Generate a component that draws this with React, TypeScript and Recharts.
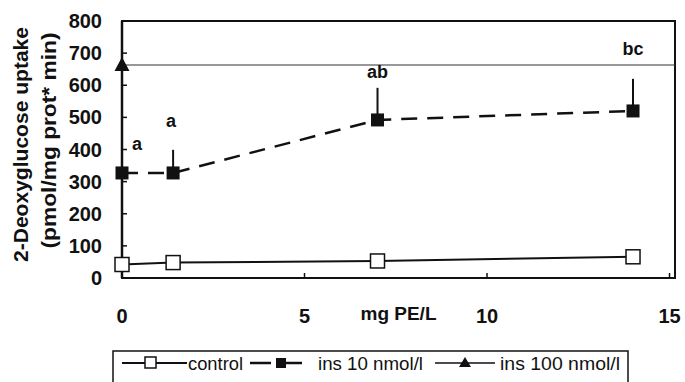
import React from 'react';
import {
  LineChart,
  Line,
  XAxis,
  YAxis,
  ErrorBar,
  ReferenceLine,
  ReferenceArea,
  LabelList,
} from 'recharts';

// mg PE/L
const doses = [0, 1.4, 7, 14];
const controlUptake = [42, 48, 53, 66];
const ins10Uptake = [327, 327, 492, 520];
const ins10ErrorUp = [0, 72, 100, 100];
const ins10Letters = ['a', 'a', 'ab', 'bc'];
const ins100Dose = [0];
const ins100Uptake = [663];
const yTicks = [0, 100, 200, 300, 400, 500, 600, 700, 800];
const xTicks = [0, 5, 10, 15];
const seriesNames = ['control', 'ins 10 nmol/l', 'ins 100 nmol/l'];

// how far each letter sits above its bar (px), and sideways nudge
const letterLift = [23, 23, 10, 24];
const letterShift = [15, -2, 0, 0];

const FONT = '"Liberation Sans", Arial, Helvetica, sans-serif';
const INK = '#111';

const controlData = doses.map((d, i) => ({ dose: d, uptake: controlUptake[i] }));
const ins10Data = doses.map((d, i) => ({
  dose: d,
  uptake: ins10Uptake[i],
  err: [0, ins10ErrorUp[i]],
  top: ins10Uptake[i] + ins10ErrorUp[i],
  letter: ins10Letters[i],
}));
const ins100Data = ins100Dose.map((d, i) => ({ dose: d, uptake: ins100Uptake[i] }));

const openSquare = (p: any) =>
  p.cx == null ? null : (
    <rect key={p.key} x={p.cx - 7} y={p.cy - 7} width={14} height={14} fill="#fff" stroke={INK} strokeWidth={1.5} />
  );
const filledSquare = (p: any) =>
  p.cx == null ? null : (
    <rect key={p.key} x={p.cx - 6.5} y={p.cy - 6.5} width={13} height={13} fill={INK} />
  );
const triangle = (p: any) =>
  p.cx == null ? null : (
    <polygon key={p.key} points={`${p.cx},${p.cy - 8} ${p.cx - 7.5},${p.cy + 6} ${p.cx + 7.5},${p.cy + 6}`} fill={INK} />
  );

const renderLetter = (props: any) => {
  const { x, y, value, index } = props;
  return (
    <text
      x={x + letterShift[index]}
      y={y - letterLift[index]}
      textAnchor="middle"
      fontFamily={FONT}
      fontWeight="bold"
      fontSize={18}
      fill={INK}
    >
      {value}
    </text>
  );
};

const yLabel = (props: any) => {
  const vb = props.viewBox;
  const cy = vb.y + vb.height / 2 - 5;
  return (
    <g fontFamily={FONT} fontWeight="bold" fontSize={20} fill={INK}>
      <text x={28} y={cy} transform={`rotate(-90 28 ${cy})`} textAnchor="middle" textLength={235} lengthAdjust="spacingAndGlyphs">
        2-Deoxyglucose uptake
      </text>
      <text x={56} y={cy - 4} transform={`rotate(-90 56 ${cy - 4})`} textAnchor="middle" textLength={216} lengthAdjust="spacingAndGlyphs">
        (pmol/mg prot* min)
      </text>
    </g>
  );
};

const xLabel = (props: any) => {
  const vb = props.viewBox;
  return (
    <text x={vb.x + vb.width / 2} y={vb.y + 42} textAnchor="middle" fontFamily={FONT} fontWeight="bold" fontSize={19} fill={INK}>
      mg PE/L
    </text>
  );
};

function ChartLegend() {
  return (
    <svg width={517} height={40} style={{ position: 'absolute', left: 112, top: 350 }}>
      <rect x={1} y={1} width={515} height={60} fill="#fff" stroke={INK} strokeWidth={1.5} />
      <g fontFamily={FONT} fontSize={18} fill={INK}>
        <line x1={10} x2={75} y1={13} y2={13} stroke={INK} strokeWidth={2} />
        <rect x={33} y={7} width={11} height={11} fill="#fff" stroke={INK} strokeWidth={1.5} />
        <text x={76} y={20} textLength={55} lengthAdjust="spacingAndGlyphs">{seriesNames[0]}</text>

        <line x1={138} x2={159} y1={13} y2={13} stroke={INK} strokeWidth={2.5} />
        <line x1={172} x2={190} y1={13} y2={13} stroke={INK} strokeWidth={2.5} />
        <rect x={164} y={8} width={10} height={10} fill={INK} />
        <text x={206} y={20} textLength={105} lengthAdjust="spacingAndGlyphs">{seriesNames[1]}</text>

        <line x1={323} x2={383} y1={13} y2={13} stroke={INK} strokeWidth={1.5} />
        <polygon points="353,7 347,17 359,17" fill={INK} />
        <text x={388} y={20} textLength={120} lengthAdjust="spacingAndGlyphs">{seriesNames[2]}</text>
      </g>
    </svg>
  );
}

export default function App() {
  return (
    <div style={{ position: 'absolute', left: 0, top: 0, width: 685, height: 382, background: '#fff' }}>
      <LineChart width={685} height={382} margin={{ top: 21, right: 10, bottom: 0, left: 0 }}>
        <XAxis
          type="number"
          dataKey="dose"
          domain={[0, 15.15]}
          ticks={xTicks}
          height={104}
          axisLine={{ stroke: INK, strokeWidth: 2 }}
          tickLine={{ stroke: INK, strokeWidth: 1.5 }}
          tickSize={-5}
          tickMargin={36}
          tick={{ fill: INK, fontFamily: FONT, fontWeight: 'bold', fontSize: 20 }}
          label={xLabel}
        />
        <YAxis
          type="number"
          domain={[0, 800]}
          ticks={yTicks}
          width={122}
          axisLine={{ stroke: INK, strokeWidth: 2.5 }}
          tickLine={{ stroke: INK, strokeWidth: 1.5 }}
          tickSize={-5}
          tickMargin={25}
          tick={{ fill: INK, fontFamily: FONT, fontWeight: 'bold', fontSize: 20 }}
          label={yLabel}
        />
        <ReferenceArea x1={0} x2={15.15} y1={0} y2={800} fill="none" stroke={INK} strokeWidth={2} />
        <ReferenceLine y={ins100Uptake[0]} stroke="#333" strokeWidth={1.2} />
        <Line
          data={controlData}
          dataKey="uptake"
          stroke={INK}
          strokeWidth={2}
          dot={openSquare}
          isAnimationActive={false}
        />
        <Line
          data={ins10Data}
          dataKey="uptake"
          stroke={INK}
          strokeWidth={2.5}
          strokeDasharray="16 10"
          dot={filledSquare}
          isAnimationActive={false}
        >
          <ErrorBar dataKey="err" direction="y" width={0} stroke={INK} strokeWidth={2} />
        </Line>
        <Line
          data={ins10Data}
          dataKey="top"
          stroke="none"
          dot={false}
          activeDot={false}
          isAnimationActive={false}
        >
          <LabelList dataKey="letter" content={renderLetter} />
        </Line>
        <Line
          data={ins100Data}
          dataKey="uptake"
          stroke={INK}
          dot={triangle}
          isAnimationActive={false}
        />
      </LineChart>
      <ChartLegend />
    </div>
  );
}
